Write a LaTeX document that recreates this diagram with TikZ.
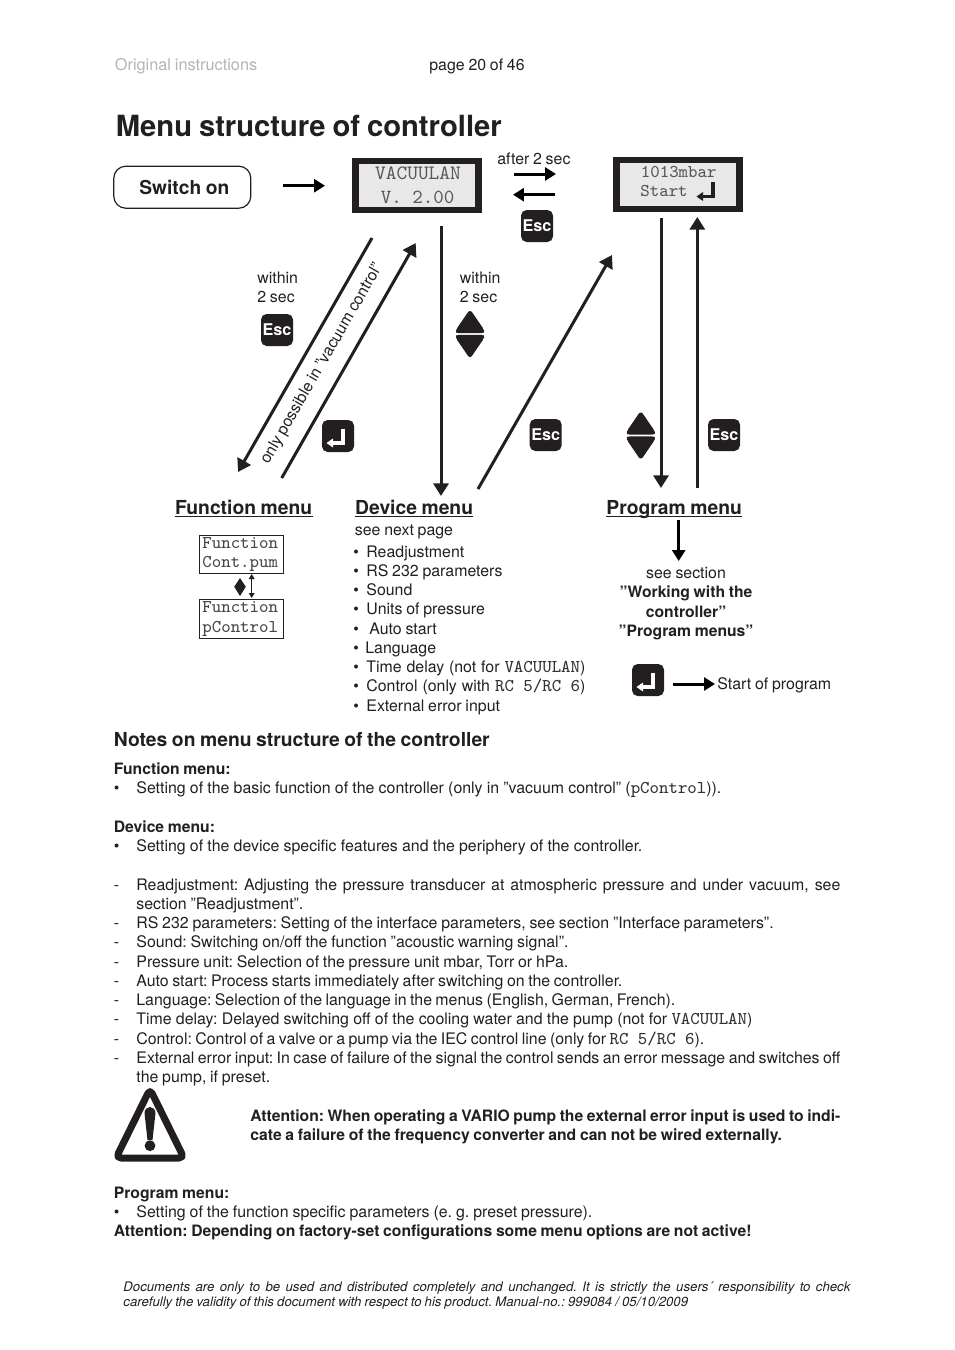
\documentclass[tikz,border=0pt]{standalone}
\usepackage{fontspec}
\setmainfont[WordSpace=0.85]{TeX Gyre Heros}
\usetikzlibrary{arrows.meta}
\frenchspacing
\definecolor{ink}{HTML}{231F20}
\definecolor{lcd}{HTML}{E8E8E8}
\definecolor{pale}{HTML}{B4B4B4}
\newcommand\bodyfont{\fontsize{7.95}{9.6}\selectfont}
\newcommand\boldfont{\fontsize{7.85}{9.6}\selectfont\bfseries}
\newcommand\mono[1]{{\ttfamily\fontsize{9}{10}\selectfont\color{black!80}#1}}
\newcommand\lcdfont{\ttfamily\color{black!66}}
\newcommand\T[3]{\node[txt] (#1) at (#2) {#3};}
\newcommand\J[4]{\node[txt] (#1) at (#2) {\makebox[#3pt][s]{#4}};}
\newcommand\B[3]{\node[txt,font=\boldfont] (#1) at (#2) {#3};}
\tikzset{
  x=0.5pt,y=-0.5pt,
  txt/.style={anchor=base west,inner sep=0pt,text=ink,font=\bodyfont},
  ctr/.style={anchor=base,inner sep=0pt,text=ink,font=\bodyfont},
  head/.style={anchor=base west,inner sep=0pt,text=ink,font=\fontsize{9.65}{11}\selectfont\bfseries},
  keybox/.style={fill=ink,rounded corners=2.8pt,minimum size=16pt,inner sep=0pt,text=white,font=\fontsize{8.1}{9}\selectfont\bfseries},
  lcdbox/.style={draw=ink,line width=3.3pt,fill=lcd,minimum width=61.5pt,minimum height=24.5pt,inner sep=0pt},
  fnbox/.style={draw=ink,line width=0.5pt,minimum width=42pt,inner sep=0pt},
  fntext/.style={anchor=base west,inner sep=0pt,font=\ttfamily\fontsize{9}{10}\selectfont\color{black!72}},
  big/.style={draw=ink,line width=1.5pt,-{Triangle[length=6.3pt,width=7.5pt]}},
  mid/.style={draw=black,line width=1.5pt,-{Triangle[length=5.4pt,width=6.4pt]}},
  rule/.style={draw=ink,line width=0.55pt},
  pics/enterg/.style={code={
    \draw[#1,line width=1.6pt] (5,-7.5) -- (5,7) -- (-6,7);
    \fill[#1] (-11.5,7) -- (-5,2.5) -- (-5,11.5) -- cycle;
  }},
  pics/updown/.style={code={
    \fill[ink,draw=ink,line width=1pt,line join=round,rounded corners=1pt] (0,-23) -- (13,-4) -- (13,-1.8) -- (-13,-1.8) -- (-13,-4) -- cycle;
    \fill[ink,draw=ink,line width=1pt,line join=round,rounded corners=1pt] (0,23) -- (13,4) -- (13,1.8) -- (-13,1.8) -- (-13,4) -- cycle;
  }},
}
\begin{document}
\begin{tikzpicture}
\useasboundingbox[fill=white] (0,0) rectangle (954,1350);

% header
\node[txt,text=pale,font=\fontsize{8.15}{9.6}\selectfont] (hdrl) at (114.5,70.5) {Original instructions};
\T{hdrp}{429,70}{page 20 of 46}
\node[txt,font=\fontsize{14.6}{17}\selectfont\bfseries] (title) at (115.5,136) {Menu structure of controller};

% top row
\node[draw=ink,line width=0.6pt,rounded corners=6pt,minimum width=68.5pt,minimum height=21pt,inner sep=0pt,text=ink,font=\fontsize{9.6}{11}\selectfont\bfseries] (sw) at (182.3,187.2) {\hspace{2pt}Switch on};
\node[lcdbox] (lcdA) at (417,185.5) {};
\node[anchor=base,inner sep=0pt,font=\fontsize{10.2}{11}\selectfont\lcdfont] (lcdA1) at (418,179) {VACUULAN};
\node[anchor=base,inner sep=0pt,font=\fontsize{10}{11}\selectfont\lcdfont] (lcdA2) at (417.5,203) {V. 2.00};
\node[lcdbox] (lcdB) at (678,184.5) {};
\node[anchor=base,inner sep=0pt,font=\fontsize{9}{10}\selectfont\lcdfont] (lcdB1) at (678.7,177) {1013mbar};
\node[anchor=base west,inner sep=0pt,font=\fontsize{9}{10}\selectfont\lcdfont] (lcdB2) at (640,196.5) {Start};
\pic at (708,189.5) {enterg=ink};

\coordinate (a1s) at (283,185.7); \coordinate (a1e) at (325,185.7);
\draw[mid] (a1s) -- (a1e);
\T{after}{497,164}{after 2 sec}
\coordinate (a2s) at (514,174); \coordinate (a2e) at (556,174);
\draw[mid] (a2s) -- (a2e);
\coordinate (a3s) at (555,194.7); \coordinate (a3e) at (513,194.7);
\draw[mid] (a3s) -- (a3e);
\node[keybox] (esc1) at (537,226) {Esc};

% diagonals and verticals
\coordinate (d1s) at (372,238); \coordinate (d1e) at (238,472);
\draw[big] (d1s) -- (d1e);
\coordinate (d2s) at (281.7,478); \coordinate (d2e) at (415.7,243);
\draw[big] (d2s) -- (d2e);
\node[inner sep=0pt,text=ink,font=\bodyfont,rotate=60] (only) at (322,364) {only possible in ”vacuum control”};
\coordinate (v1s) at (441,226); \coordinate (v1e) at (441,496);
\draw[big] (v1s) -- (v1e);
\coordinate (d3s) at (478,489); \coordinate (d3e) at (612,255);
\draw[big] (d3s) -- (d3e);
\coordinate (v2s) at (661,218); \coordinate (v2e) at (661,488);
\draw[big] (v2s) -- (v2e);
\coordinate (v3s) at (697.3,488); \coordinate (v3e) at (697.3,217);
\draw[big] (v3s) -- (v3e);

\T{w1}{257,283}{within}
\T{w2}{257,302}{2 sec}
\T{w3}{459.5,283}{within}
\T{w4}{459.5,302}{2 sec}
\node[keybox] (esc2) at (277,330) {Esc};
\node[keybox] (esc3) at (545.7,435) {Esc};
\node[keybox] (esc4) at (724,435) {Esc};
\node[keybox] (ent1) at (338,436) {};
\pic at (ent1) {enterg=white};
\pic at (470,334) {updown};
\pic at (640.8,435.5) {updown};

% menu headings
\node[head] (fm) at (174.7,514) {Function menu};
\draw[rule] ([yshift=-1.4pt]fm.base west) -- ([yshift=-1.4pt]fm.base east);
\node[head] (dm) at (354.8,514) {Device menu};
\draw[rule] ([yshift=-1.4pt]dm.base west) -- ([yshift=-1.4pt]dm.base east);
\node[head] (pm) at (606,514) {Program menu};
\draw[rule] ([yshift=-1.4pt]pm.base west) -- ([yshift=-1.4pt]pm.base east);

% function menu
\node[fnbox,minimum height=19pt] (fb1) at (241.7,554) {};
\node[fnbox,minimum height=19.5pt] (fb2) at (241.7,618.5) {};
\node[fntext] (fb1a) at (202,548) {Function};
\node[fntext] (fb1b) at (202,567.3) {Cont.pum};
\node[fntext] (fb2a) at (202,612.5) {Function};
\node[fntext] (fb2b) at (202,632.3) {pControl};
\fill[ink] (240,578) -- (245.8,586.7) -- (240,596) -- (234.2,586.7) -- cycle;
\coordinate (fa1) at (251.7,574); \coordinate (fa2) at (251.7,598);
\draw[ink,line width=0.6pt,{Triangle[length=2.5pt,width=2.8pt]}-{Triangle[length=2.5pt,width=2.8pt]}] (fa1) -- (fa2);

% device menu list
\T{snp}{354.5,535}{see next page}
\T{b1}{353,557}{•}\T{i1}{366,557}{Readjustment}
\T{b2}{353,576}{•}\T{i2}{366,576}{RS 232 parameters}
\T{b3}{353,595}{•}\T{i3}{366,595}{Sound}
\T{b4}{353,614}{•}\T{i4}{366,614}{Units of pressure}
\T{b5}{353,634}{•}\T{i5}{369,634}{Auto start}
\T{b6}{353,653}{•}\T{i6}{365,653}{Language}
\T{b7}{353,672}{•}\J{i7}{366,672}{109.5}{Time delay (not for \mono{VACUULAN})}
\T{b8}{353,691}{•}\J{i8}{366,691}{109.5}{Control (only with \mono{RC 5/RC 6})}
\T{b9}{353,711}{•}\T{i9}{366,711}{External error input}

% program menu
\coordinate (pa1) at (678.7,520); \coordinate (pa2) at (678.7,561);
\draw[mid,line width=1.5pt] (pa1) -- (pa2);
\node[ctr] (ps1) at (686,578) {see section};
\node[ctr,font=\boldfont] (ps2) at (686,597) {”Working with the};
\node[ctr,font=\boldfont] (ps3) at (686,617) {controller”};
\node[ctr,font=\boldfont] (ps4) at (686,636) {”Program menus”};
\node[keybox] (ent2) at (648,680) {};
\pic at (ent2) {enterg=white};
\coordinate (sa1) at (672.7,684); \coordinate (sa2) at (715,684);
\draw[mid] (sa1) -- (sa2);
\T{sop}{717,689}{Start of program}

% notes
\node[txt,font=\fontsize{9.65}{11}\selectfont\bfseries] (nh) at (113.5,746) {Notes on menu structure of the controller};
\B{n1}{113.5,774}{Function menu:}
\T{n2b}{113.5,793}{•}\J{n2}{136,793}{292.5}{Setting of the basic function of the controller (only in ”vacuum control” (\mono{pControl})).}
\B{n3}{113.5,832}{Device menu:}
\T{n4b}{113.5,851}{•}\J{n4}{136,851}{253}{Setting of the device specific features and the periphery of the controller.}
\T{n5d}{113.5,890}{-}\J{n5}{136,890}{352}{Readjustment: Adjusting the pressure transducer at atmospheric pressure and under vacuum, see}
\T{n6}{136,909}{section ”Readjustment”.}
\T{n7d}{113.5,928}{-}\T{n7}{136,928}{RS 232 parameters: Setting of the interface parameters, see section ”Interface parameters”.}
\T{n8d}{113.5,947}{-}\T{n8}{136,947}{Sound: Switching on/off the function ”acoustic warning signal”.}
\T{n9d}{113.5,967}{-}\T{n9}{136,967}{Pressure unit: Selection of the pressure unit mbar, Torr or hPa.}
\T{n10d}{113.5,986}{-}\J{n10}{136,986}{243}{Auto start: Process starts immediately after switching on the controller.}
\T{n11d}{113.5,1005}{-}\J{n11}{136,1005}{269.5}{Language: Selection of the language in the menus (English, German, French).}
\T{n12d}{113.5,1024}{-}\J{n12}{136,1024}{308}{Time delay: Delayed switching off of the cooling water and the pump (not for \mono{VACUULAN})}
\T{n13d}{113.5,1044}{-}\J{n13}{136,1044}{284}{Control: Control of a valve or a pump via the IEC control line (only for \mono{RC 5/RC 6}).}
\T{n14d}{113.5,1063}{-}\J{n14}{136,1063}{352}{External error input: In case of failure of the signal the control sends an error message and switches off}
\T{n15}{136,1082}{the pump, if preset.}

% warning sign
\draw[ink,line width=3.5pt,line join=round,rounded corners=2.5pt] (150,1089) -- (184,1158) -- (116,1158) -- cycle;
\fill[ink] (144.5,1113) arc[start angle=180,end angle=360,x radius=5.5,y radius=6] -- (152.5,1140) -- (147.5,1140) -- cycle;
\fill[ink] (150,1145.7) circle[radius=5.4];

\node[txt,font=\boldfont] (at1) at (250,1121) {\makebox[295pt][s]{Attention: When operating a VARIO pump the external error input is used to indi-}};
\B{at2}{250,1140}{cate a failure of the frequency converter and can not be wired externally.}

\B{n16}{113.5,1198}{Program menu:}
\T{n17b}{113.5,1217}{•}\J{n17}{136,1217}{228}{Setting of the function specific parameters (e. g. preset pressure).}
\B{n18}{113.5,1236}{Attention: Depending on factory-set configurations some menu options are not active!}

% footer
\node[txt,font=\fontsize{6.6}{8}\selectfont\itshape] (f1) at (123,1291) {\makebox[363.5pt][s]{Documents are only to be used and distributed completely and unchanged. It is strictly the users´ responsibility to check}};
\node[txt,font=\fontsize{6.6}{8}\selectfont\itshape] (f2) at (123,1306) {carefully the validity of this document with respect to his product. Manual-no.: 999084 / 05/10/2009};
\end{tikzpicture}
\end{document}
